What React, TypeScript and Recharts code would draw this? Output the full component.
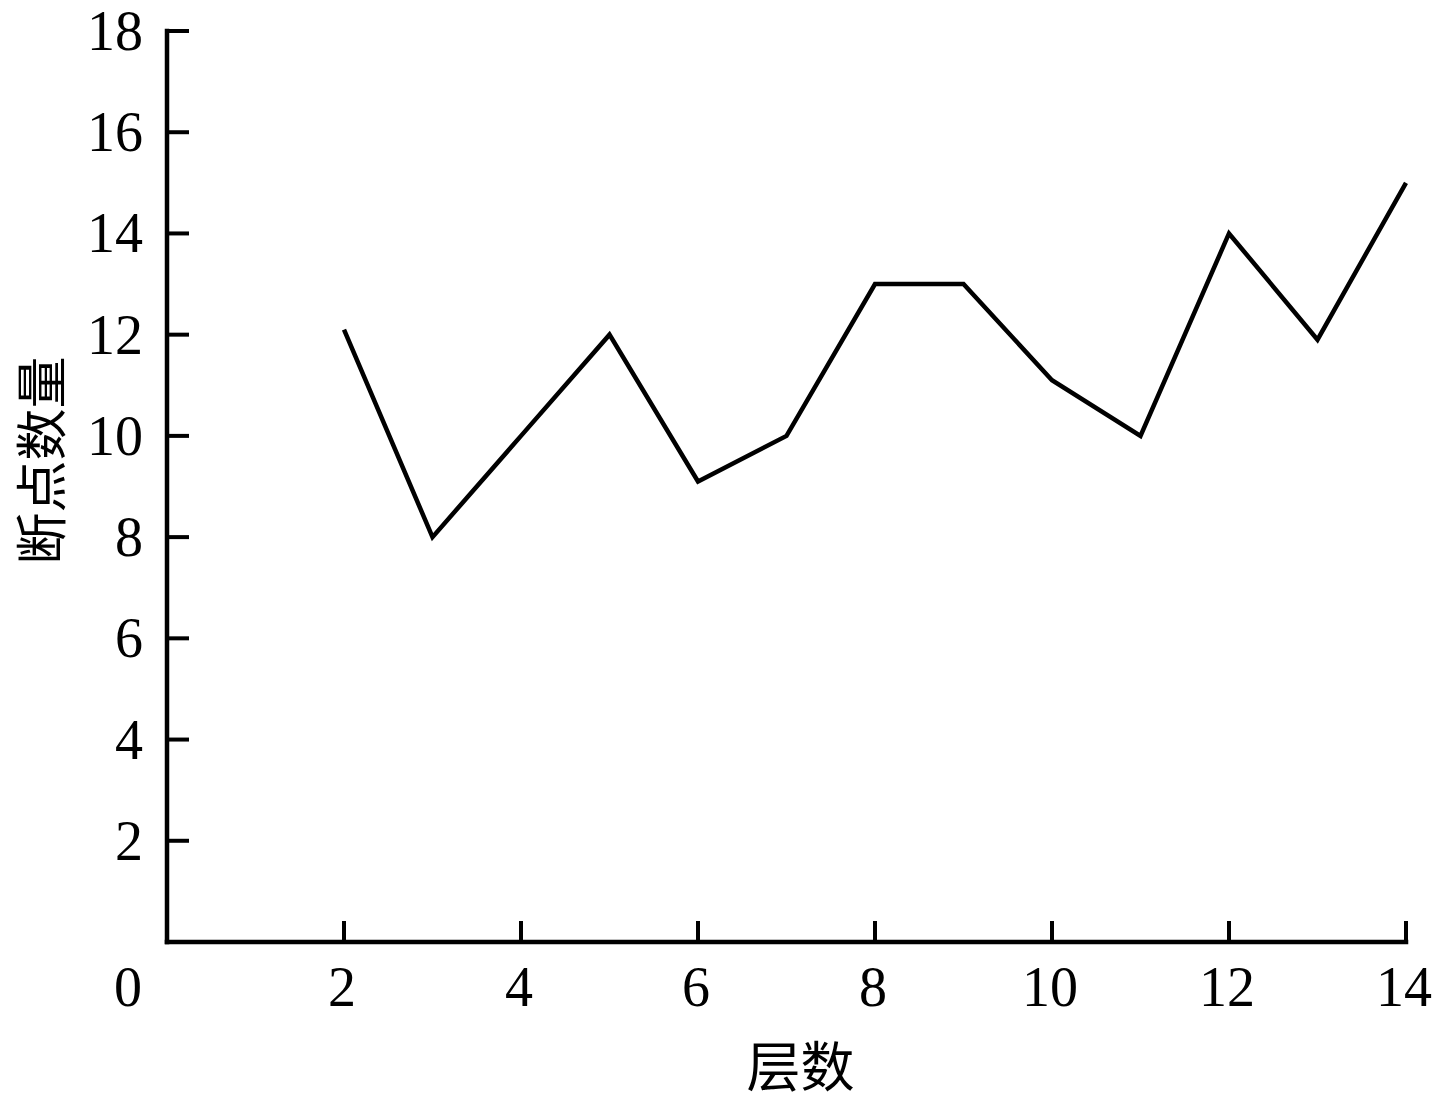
import React from 'react';
import { LineChart, Line, XAxis, YAxis } from 'recharts';

const layers = [2, 3, 4, 5, 6, 7, 8, 9, 10, 11, 12, 13, 14];
const breakpointCounts = [12.1, 8, 10, 12, 9.1, 10, 13, 13, 11.1, 10, 14, 11.9, 15];
const xTicks = [0, 2, 4, 6, 8, 10, 12, 14];
const yTicks = [2, 4, 6, 8, 10, 12, 14, 16, 18];
const xTitle = '层数';
const yTitle = '断点数量';

const data = layers.map((layer, i) => ({ layer, count: breakpointCounts[i] }));

const NUM_FONT = "'Liberation Serif', 'Times New Roman', serif";
const CJK_FONT = "'Noto Sans CJK SC', 'Liberation Serif', serif";

// ticks point inward, so draw them ourselves at the position the axis hands us
const XTick = (props: any) => {
  const { x, y, payload } = props;
  const isOrigin = payload.value === 0;
  return (
    <g>
      {!isOrigin && <line x1={x} y1={y} x2={x} y2={y - 21} stroke="#000" strokeWidth={4} />}
      <text
        x={isOrigin ? x - 39 : x - 2}
        y={y + 64}
        textAnchor="middle"
        fontFamily={NUM_FONT}
        fontSize={56}
        fill="#000"
      >
        {payload.value}
      </text>
    </g>
  );
};

const YTick = (props: any) => {
  const { x, y, payload } = props;
  return (
    <g>
      <line x1={x} y1={y} x2={x + 22} y2={y} stroke="#000" strokeWidth={4} />
      <text
        x={x - 24}
        y={y}
        dy="0.34em"
        textAnchor="end"
        fontFamily={NUM_FONT}
        fontSize={56}
        fill="#000"
      >
        {payload.value}
      </text>
    </g>
  );
};

const YTitle = (props: any) => {
  const vb = props.viewBox;
  const cx = vb.x + 38;
  const cy = vb.y + vb.height / 2 - 26;
  return (
    <text
      x={cx}
      y={cy}
      transform={`rotate(-90, ${cx}, ${cy})`}
      textAnchor="middle"
      dominantBaseline="central"
      fontFamily={CJK_FONT}
      fontSize={52}
      fill="#000"
    >
      {yTitle}
    </text>
  );
};

const XTitle = (props: any) => {
  const vb = props.viewBox;
  return (
    <text
      x={vb.x + vb.width / 2 + 14}
      y={vb.y + 121}
      textAnchor="middle"
      dominantBaseline="central"
      fontFamily={CJK_FONT}
      fontSize={54}
      fill="#000"
    >
      {xTitle}
    </text>
  );
};

export default function App() {
  return (
    <div style={{ position: 'absolute', left: 0, top: 0, background: '#fff' }}>
      <LineChart width={1441} height={1105} data={data} margin={{ top: 31, right: 35, left: 0, bottom: 0 }}>
        <XAxis
          dataKey="layer"
          type="number"
          domain={[0, 14]}
          ticks={xTicks}
          height={163}
          tickSize={0}
          tickMargin={0}
          tickLine={false}
          axisLine={{ stroke: '#000', strokeWidth: 4.5, strokeLinecap: 'square' }}
          tick={<XTick />}
          interval={0}
          label={{ content: <XTitle /> }}
        />
        <YAxis
          type="number"
          domain={[0, 18]}
          ticks={yTicks}
          width={167}
          tickSize={0}
          tickMargin={0}
          tickLine={false}
          axisLine={{ stroke: '#000', strokeWidth: 4.5, strokeLinecap: 'square' }}
          tick={<YTick />}
          interval={0}
          label={{ content: <YTitle /> }}
        />
        <Line
          type="linear"
          dataKey="count"
          stroke="#000"
          strokeWidth={4.5}
          dot={false}
          activeDot={false}
          isAnimationActive={false}
        />
      </LineChart>
    </div>
  );
}
